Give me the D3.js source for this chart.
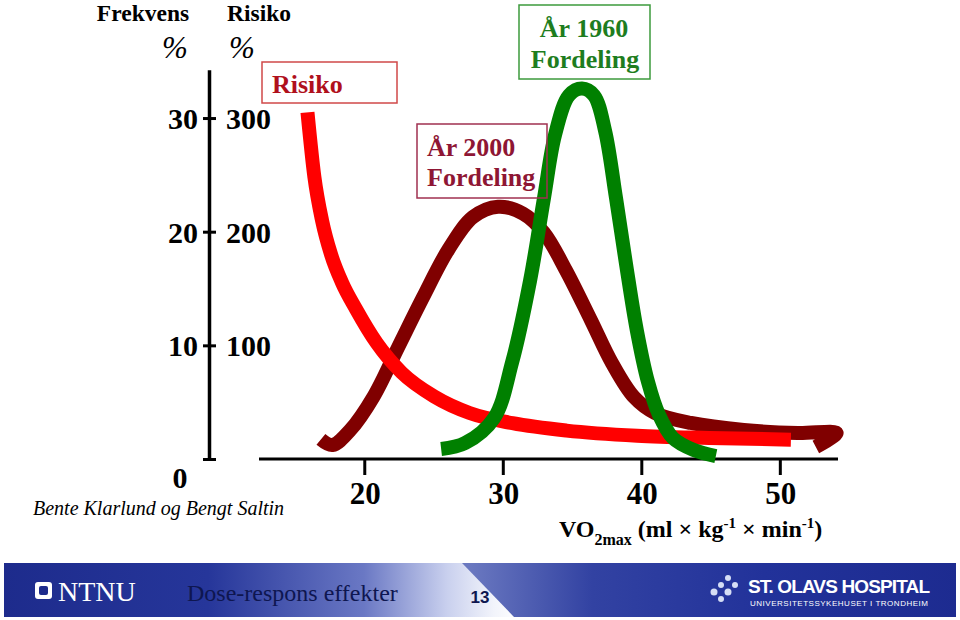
<!DOCTYPE html>
<html>
<head>
<meta charset="utf-8">
<script src="https://cdn.jsdelivr.net/npm/d3@7"></script>
<style>
  html, body { margin: 0; padding: 0; background: #fff; }
  svg { display: block; }
</style>
</head>
<body>
<svg id="chart" width="960" height="620"></svg>
<script>
// ---------- DATA ----------
const xTickValues = [20, 30, 40, 50];
const freqTickValues = [10, 20, 30];
const riskTickLabels = ["100", "200", "300"];

// Risk curve (risk %, right scale 0-300)
const riskX = [15.9, 16.4, 16.95, 17.6, 18.4, 19.4, 20.9, 22.7, 25.05, 27.6, 30.7, 34.6, 39.7, 44.9, 50.8];
const riskY = [305, 248, 210, 180, 155, 132, 102, 76, 55, 40.5, 31.5, 25, 20.5, 18.5, 17];

// Year 2000 distribution (frequency %)
const dist2000X = [16.87, 17.7, 18.99, 20.65, 22.45, 24.25, 26.06, 27.86, 29.66, 31.46, 32.98, 34.56, 36.37, 37.88, 39.47, 40.98, 43.58, 47.4, 51.3, 54.1, 52.6];
const dist2000Y = [1.72, 1.23, 2.55, 5.45, 9.85, 14.25, 18.4, 21.3, 22.2, 21.6, 19.9, 16.6, 12.2, 8.45, 5.45, 4.05, 3.17, 2.55, 2.29, 2.29, 1.06];

// Year 1960 distribution (frequency %)
const dist1960X = [25.55, 27.28, 29.37, 30.67, 31.97, 32.98, 33.77, 34.78, 35.72, 36.58, 37.38, 38.17, 38.89, 39.68, 40.48, 41.27, 42.28, 43.79, 45.38];
const dist1960Y = [0.88, 1.4, 3.6, 8.5, 15.7, 23.0, 28.5, 32.0, 32.6, 32.0, 28.9, 23.0, 17.2, 11.3, 6.8, 3.9, 1.85, 0.79, 0.26];

// ---------- SCALES ----------
const svg = d3.select("#chart");
const x = d3.scaleLinear().domain([12.4, 54.2]).range([259, 838]);
const yF = d3.scaleLinear().domain([0, 34.2]).range([459, 70.3]);
const yR = d3.scaleLinear().domain([0, 342]).range([459, 70.3]);

const serif = '"Liberation Serif", "Times New Roman", serif';
const sans = '"Liberation Sans", Arial, sans-serif';

// ---------- HEADERS ----------
svg.append("text").attr("x", 143).attr("y", 21).attr("text-anchor", "middle")
  .attr("font-family", serif).attr("font-weight", "bold").attr("font-size", 23.5).text("Frekvens");
svg.append("text").attr("x", 259).attr("y", 21).attr("text-anchor", "middle")
  .attr("font-family", serif).attr("font-weight", "bold").attr("font-size", 23.5).text("Risiko");
svg.append("text").attr("x", 175).attr("y", 58).attr("text-anchor", "middle")
  .attr("font-family", serif).attr("font-style", "italic").attr("font-size", 31).text("%");
svg.append("text").attr("x", 242).attr("y", 58).attr("text-anchor", "middle")
  .attr("font-family", serif).attr("font-style", "italic").attr("font-size", 31).text("%");

// ---------- Y AXIS ----------
const yAxisG = svg.append("g").attr("transform", "translate(203,0)");
yAxisG.call(d3.axisRight(yF).tickValues([0].concat(freqTickValues)).tickSize(13).tickFormat(""));
yAxisG.select(".domain").remove();
yAxisG.selectAll(".tick line").attr("stroke", "#000").attr("stroke-width", 3);
svg.append("line").attr("x1", 209.5).attr("x2", 209.5).attr("y1", yF(34.2)).attr("y2", yF(0) + 1.5)
  .attr("stroke", "#000").attr("stroke-width", 3.5);

freqTickValues.forEach((v, i) => {
  svg.append("text").attr("x", 198).attr("y", yF(v) + 11).attr("text-anchor", "end")
    .attr("font-family", serif).attr("font-weight", "bold").attr("font-size", 30).text(String(v));
  svg.append("text").attr("x", 226).attr("y", yR(+riskTickLabels[i]) + 11).attr("text-anchor", "start")
    .attr("font-family", serif).attr("font-weight", "bold").attr("font-size", 30).text(riskTickLabels[i]);
});
svg.append("text").attr("x", 180).attr("y", yF(0) + 29).attr("text-anchor", "middle")
  .attr("font-family", serif).attr("font-weight", "bold").attr("font-size", 30).text("0");

// ---------- X AXIS ----------
const xAxisG = svg.append("g").attr("transform", `translate(0,${yF(0)})`);
xAxisG.call(d3.axisBottom(x).tickValues(xTickValues).tickSize(16).tickFormat(""));
xAxisG.select(".domain").remove();
xAxisG.selectAll(".tick line").attr("stroke", "#000").attr("stroke-width", 3);
svg.append("line").attr("x1", x(12.4)).attr("x2", x(54.2)).attr("y1", yF(0)).attr("y2", yF(0))
  .attr("stroke", "#000").attr("stroke-width", 3);
xTickValues.forEach(v => {
  svg.append("text").attr("x", x(v) + 1).attr("y", 504).attr("text-anchor", "middle")
    .attr("font-family", serif).attr("font-weight", "bold").attr("font-size", 31).text(String(v));
});

// X axis title
const xt = svg.append("text").attr("x", 559).attr("y", 537)
  .attr("font-family", serif).attr("font-weight", "bold").attr("font-size", 24);
xt.append("tspan").text("VO");
xt.append("tspan").attr("font-size", 16).attr("dy", 8).text("2max");
xt.append("tspan").attr("dy", -8).text(" (ml \u00D7 kg");
xt.append("tspan").attr("font-size", 15).attr("dy", -9).text("-1");
xt.append("tspan").attr("dy", 9).text(" \u00D7 min");
xt.append("tspan").attr("font-size", 15).attr("dy", -9).text("-1");
xt.append("tspan").attr("dy", 9).text(")");

// Credit
svg.append("text").attr("x", 33).attr("y", 515)
  .attr("font-family", serif).attr("font-style", "italic").attr("font-size", 20)
  .text("Bente Klarlund og Bengt Saltin");

// ---------- CURVES ----------
const lineF = d3.line().x(d => x(d[0])).y(d => yF(d[1])).curve(d3.curveCatmullRom.alpha(0.5));
const lineR = d3.line().x(d => x(d[0])).y(d => yR(d[1])).curve(d3.curveMonotoneX);

svg.append("path").datum(d3.zip(dist2000X, dist2000Y)).attr("d", lineF)
  .attr("fill", "none").attr("stroke", "#800000").attr("stroke-width", 14)
  .attr("stroke-linejoin", "round");
svg.append("path").datum(d3.zip(riskX, riskY)).attr("d", lineR)
  .attr("fill", "none").attr("stroke", "#ff0000").attr("stroke-width", 14);
svg.append("path").datum(d3.zip(dist1960X, dist1960Y)).attr("d", lineF)
  .attr("fill", "none").attr("stroke", "#008000").attr("stroke-width", 14);

// ---------- LABEL BOXES ----------
svg.append("rect").attr("x", 262).attr("y", 62).attr("width", 135).attr("height", 41)
  .attr("fill", "#fff").attr("stroke", "#d04848").attr("stroke-width", 1.5);
svg.append("text").attr("x", 272).attr("y", 93)
  .attr("font-family", serif).attr("font-weight", "bold").attr("font-size", 26)
  .attr("fill", "#b0101c").text("Risiko");

svg.append("rect").attr("x", 417).attr("y", 124).attr("width", 130).attr("height", 74)
  .attr("fill", "none").attr("stroke", "#a03050").attr("stroke-width", 1.5);
svg.append("text").attr("x", 427).attr("y", 156)
  .attr("font-family", serif).attr("font-weight", "bold").attr("font-size", 26)
  .attr("fill", "#8e1634").text("År 2000");
svg.append("text").attr("x", 427).attr("y", 186)
  .attr("font-family", serif).attr("font-weight", "bold").attr("font-size", 26)
  .attr("fill", "#8e1634").text("Fordeling");

svg.append("rect").attr("x", 519).attr("y", 5).attr("width", 131).attr("height", 74)
  .attr("fill", "#fff").attr("stroke", "#3c9a3c").attr("stroke-width", 1.5);
svg.append("text").attr("x", 584).attr("y", 37).attr("text-anchor", "middle")
  .attr("font-family", serif).attr("font-weight", "bold").attr("font-size", 26)
  .attr("fill", "#1e7d1e").text("År 1960");
svg.append("text").attr("x", 585).attr("y", 68).attr("text-anchor", "middle")
  .attr("font-family", serif).attr("font-weight", "bold").attr("font-size", 26)
  .attr("fill", "#1e7d1e").text("Fordeling");

// ---------- FOOTER ----------
const defs = svg.append("defs");
const g1 = defs.append("linearGradient").attr("id", "bandL")
  .attr("gradientUnits", "userSpaceOnUse").attr("x1", 0).attr("x2", 520).attr("y1", 0).attr("y2", 0);
[[0, "#1d2b8c"], [0.4, "#26369a"], [0.7, "#6a78c4"], [0.86, "#c9d0ee"], [0.95, "#f2f4fb"], [1, "#ffffff"]]
  .forEach(s => g1.append("stop").attr("offset", s[0]).attr("stop-color", s[1]));
const g2 = defs.append("linearGradient").attr("id", "bandR")
  .attr("gradientUnits", "userSpaceOnUse").attr("x1", 470).attr("x2", 960).attr("y1", 0).attr("y2", 0);
[[0, "#6a78c0"], [0.25, "#3242a2"], [0.6, "#22329a"], [1, "#1d2b90"]]
  .forEach(s => g2.append("stop").attr("offset", s[0]).attr("stop-color", s[1]));

svg.append("rect").attr("x", 4).attr("y", 563).attr("width", 952).attr("height", 54).attr("fill", "url(#bandL)");
svg.append("path").attr("d", "M462,563 L956,563 L956,617 L514,617 Z").attr("fill", "url(#bandR)");

// NTNU logo
svg.append("rect").attr("x", 35).attr("y", 582).attr("width", 17).attr("height", 17).attr("rx", 3).attr("fill", "#fff");
svg.append("rect").attr("x", 39).attr("y", 586).attr("width", 9).attr("height", 9).attr("rx", 2).attr("fill", "#1d2b8c");
svg.append("text").attr("x", 58).attr("y", 601).attr("font-family", serif).attr("font-size", 28)
  .attr("fill", "#fff").text("NTNU");
svg.append("text").attr("x", 187).attr("y", 601).attr("font-family", serif).attr("font-size", 24)
  .attr("fill", "#0e1650").text("Dose-respons effekter");
svg.append("text").attr("x", 480).attr("y", 603).attr("text-anchor", "middle").attr("font-family", sans)
  .attr("font-weight", "bold").attr("font-size", 17).attr("fill", "#0e1650").text("13");

// St. Olavs logo
[[728, 578, 3], [721, 585, 3], [735, 585, 3], [714, 592, 3.5], [728, 592, 3.5], [721, 599, 3]]
  .forEach(d => svg.append("circle").attr("cx", d[0]).attr("cy", d[1]).attr("r", d[2]).attr("fill", "#d6def5"));
svg.append("text").attr("x", 748).attr("y", 593).attr("font-family", sans).attr("font-weight", "bold")
  .attr("font-size", 19).attr("fill", "#fff").attr("textLength", 182).text("ST. OLAVS HOSPITAL");
svg.append("text").attr("x", 750).attr("y", 606).attr("font-family", sans)
  .attr("font-size", 8).attr("fill", "#fff").attr("textLength", 178).text("UNIVERSITETSSYKEHUSET I TRONDHEIM");
</script>
</body>
</html>
